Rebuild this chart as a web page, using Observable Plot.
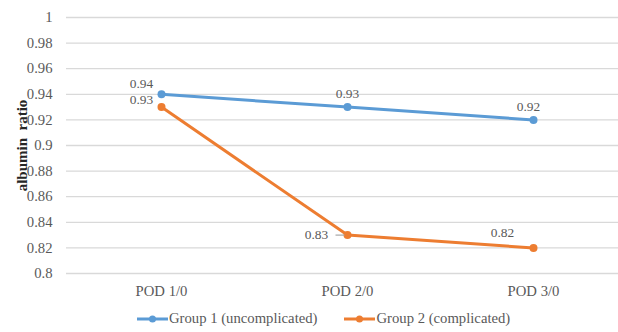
<!DOCTYPE html>
<html>
<head>
<meta charset="utf-8">
<script src="https://cdn.jsdelivr.net/npm/d3@7"></script>
<script src="https://cdn.jsdelivr.net/npm/@observablehq/plot@0.6"></script>
<style>
  html, body { margin: 0; padding: 0; background: #fff; }
  #chart { width: 618px; height: 332px; position: relative; overflow: hidden; font-family: "Liberation Serif", "Times New Roman", Times, serif; }
  #chart svg { display: block; }
  #chart svg text { font-family: "Liberation Serif", "Times New Roman", Times, serif; }
  g[aria-label="y-axis label"] text { font-weight: bold; font-size: 15px; fill: #262626; }
  .legend { display: flex; align-items: center; padding-left: 137px; height: 27px; font-size: 14.7px; color: #595959; }
  .legend .item { display: flex; align-items: center; margin-right: 27px; }
  .legend svg { margin-right: 1px; }
</style>
</head>
<body>
<div id="chart"></div>
<script>
// Albumin ratio by postoperative day, two patient groups
const categories = ["POD 1/0", "POD 2/0", "POD 3/0"];
const group1Values = [0.94, 0.93, 0.92];
const group2Values = [0.93, 0.83, 0.82];
const seriesNames = ["Group 1 (uncomplicated)", "Group 2 (complicated)"];
const seriesColors = ["#5B9BD5", "#ED7D31"];
const yTicks = [0.8, 0.82, 0.84, 0.86, 0.88, 0.9, 0.92, 0.94, 0.96, 0.98, 1];

const rows = [
  ...categories.map((c, i) => ({series: seriesNames[0], cat: c, value: group1Values[i]})),
  ...categories.map((c, i) => ({series: seriesNames[1], cat: c, value: group2Values[i]}))
];

// where each data label sits relative to its point
const labelPlacement = [
  {series: 0, cat: 0, dx: -20, dy: -11},
  {series: 0, cat: 1, dx: 0, dy: -13},
  {series: 0, cat: 2, dx: -5, dy: -13},
  {series: 1, cat: 0, dx: -20, dy: -7},
  {series: 1, cat: 1, dx: -31, dy: 0},
  {series: 1, cat: 2, dx: -31, dy: -15}
];

const leaderSymbol = {
  draw(context) { context.moveTo(-4.5, 0); context.lineTo(4.5, 0); }
};

const labelMarks = labelPlacement.map(p => {
  const row = rows.find(r => r.series === seriesNames[p.series] && r.cat === categories[p.cat]);
  return Plot.text([row], {
    x: "cat", y: "value", text: d => String(d.value),
    dx: p.dx, dy: p.dy, fill: "#595959", fontSize: 13.4
  });
});

const plot = Plot.plot({
  width: 618,
  height: 305,
  marginLeft: 66,
  marginRight: 0,
  marginTop: 17,
  marginBottom: 32,
  style: {fontSize: "14.7px", color: "#595959", background: "#fff"},
  x: {type: "point", domain: categories, range: [160, 533], padding: 0, label: null, tickSize: 0, tickPadding: 12},
  y: {domain: [0.8, 1], ticks: yTicks, tickFormat: d => String(d), tickSize: 0, tickPadding: 14,
      label: "albumin\u00a0 ratio", labelAnchor: "center", labelArrow: "none", labelOffset: 50},
  color: {domain: seriesNames, range: seriesColors},
  marks: [
    Plot.ruleY(yTicks, {stroke: "#d9d9d9", strokeWidth: 1.3}),
    Plot.line(rows, {x: "cat", y: "value", z: "series", stroke: "series", strokeWidth: 3}),
    Plot.dot(rows, {x: "cat", y: "value", fill: "series", r: 4}),
    Plot.dot(rows.filter(r => r.series === seriesNames[1] && r.cat === categories[1]),
      {x: "cat", y: "value", symbol: leaderSymbol, r: 4, stroke: "#a6a6a6", strokeWidth: 1.2, dx: -7.5}),
    ...labelMarks
  ]
});

const chart = document.getElementById("chart");
chart.appendChild(plot);

// legend below the plot
const legend = document.createElement("div");
legend.className = "legend";
seriesNames.forEach((name, i) => {
  const item = document.createElement("div");
  item.className = "item";
  item.innerHTML = `<svg width="31" height="10"><line x1="0" y1="5" x2="31" y2="5" stroke="${seriesColors[i]}" stroke-width="3"/><circle cx="15.5" cy="5" r="3.5" fill="${seriesColors[i]}"/></svg><span>${name}</span>`;
  legend.appendChild(item);
});
chart.appendChild(legend);
</script>
</body>
</html>
